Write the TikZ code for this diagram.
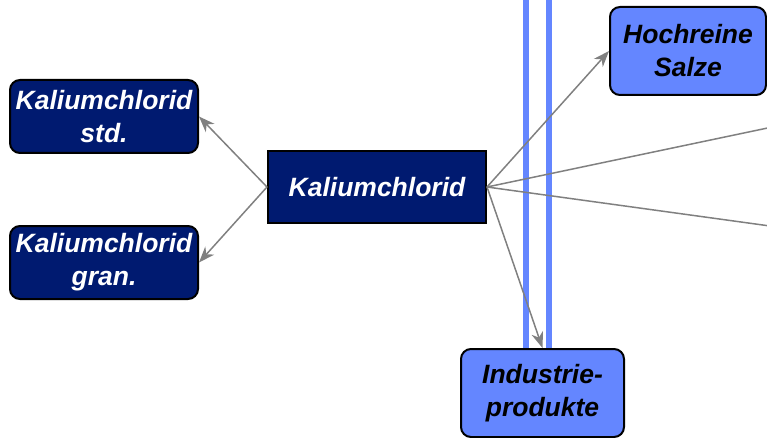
\documentclass[tikz,border=0pt]{standalone}
\usepackage{fontspec}
\setmainfont{Liberation Sans}
\usetikzlibrary{arrows.meta}
\definecolor{navy}{RGB}{0,26,112}
\definecolor{lightblue}{RGB}{100,134,255}
\definecolor{arrowgray}{RGB}{128,128,128}
\tikzset{
  box/.style={draw=black, line width=2pt, inner sep=0pt, align=center,
    font=\fontsize{26.5}{33}\selectfont\bfseries\itshape},
  darkbox/.style={box, fill=navy, text=white},
  roundbox/.style={rounded corners=10pt},
  lightbox/.style={box, roundbox, fill=lightblue, text=black},
  conn/.style={draw=arrowgray, line width=1.5pt, -{Stealth[length=16pt,width=12pt,inset=5pt]}},
  plainconn/.style={draw=arrowgray, line width=1.5pt},
  bar/.style={draw=lightblue, line width=6pt}
}
\begin{document}
\begin{tikzpicture}[x=1pt,y=-1pt]
\useasboundingbox (0,0) rectangle (767,438);
\node[darkbox, roundbox, minimum width=188pt, minimum height=73pt] (std) at (104,116.5) {Kaliumchlorid\\std.};
\node[darkbox, roundbox, minimum width=188pt, minimum height=73pt] (gran) at (104,262.5) {Kaliumchlorid\\gran.};
\node[darkbox, minimum width=218pt, minimum height=72pt] (kcl) at (377,187) {Kaliumchlorid};
\node[lightbox, minimum width=156pt, minimum height=88pt] (hoch) at (688,51) {Hochreine\\Salze};
\node[lightbox, minimum width=163pt, minimum height=88pt] (ind) at (542.5,393) {Industrie-\\produkte};
\coordinate (topL) at (526,0);
\coordinate (topR) at (549,0);
\coordinate (offA) at (770,127.5);
\coordinate (offB) at (770,226);
\draw[bar] (topL) -- (topL |- ind.north);
\draw[bar] (topR) -- (topR |- ind.north);
\draw[conn] (kcl.west) -- (std.east);
\draw[conn] (kcl.west) -- (gran.east);
\draw[conn] (kcl.east) -- (hoch.west);
\draw[conn] (kcl.east) -- (ind.north);
\draw[plainconn] (kcl.east) -- (offA);
\draw[plainconn] (kcl.east) -- (offB);
\end{tikzpicture}
\end{document}
